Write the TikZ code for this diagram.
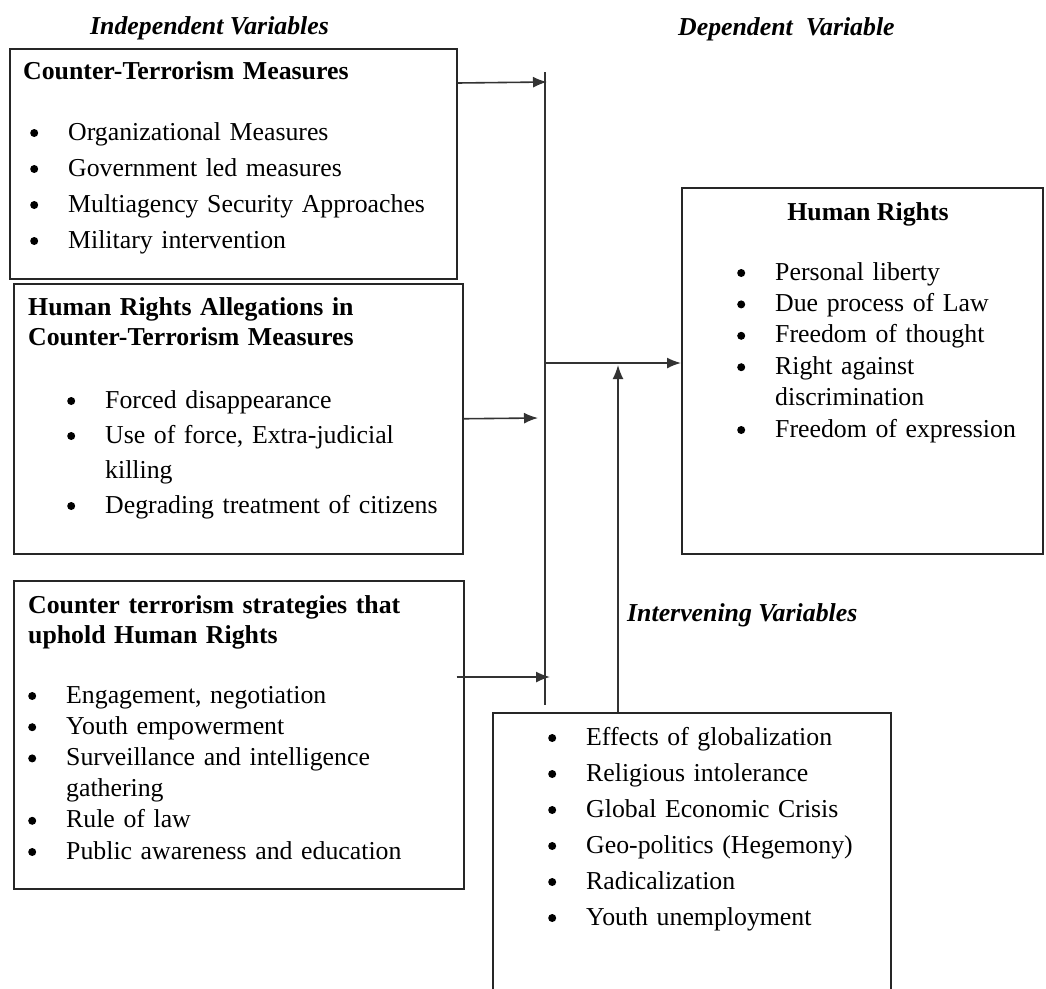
\documentclass[tikz,border=0pt]{standalone}
\usepackage{fontspec}
\setmainfont{Liberation Serif}
\usetikzlibrary{arrows.meta}

\newcommand{\dotmark}{\tikz[baseline=0pt]\fill (4pt,7pt) circle[radius=4pt];}
\newcommand{\itm}{\makebox[38pt][l]{\dotmark}}
\newcommand{\cnt}{\hspace*{38pt}}

\begin{document}
\begin{tikzpicture}[
    x=1pt, y=-1pt,
    >=Latex,
    frame/.style={draw=black!85, line width=1.5pt, anchor=north west, inner sep=0pt},
    heading/.style={anchor=base west, inner sep=0pt, font=\bfseries\itshape\fontsize{25.8}{31}\selectfont},
    boxtitle/.style={anchor=base west, inner sep=0pt, align=left, text width=430pt, font=\bfseries\fontsize{25.8}{30.5}\selectfont},
    itemlist/.style={anchor=base west, inner sep=0pt, align=left, text width=400pt, font=\fontsize{25.8}{#1}\selectfont},
    conn/.style={draw=black!80, line width=1.6pt},
    arrow/.style={conn, -{Latex[length=14pt,width=11pt]}}
]
\useasboundingbox (0,0) rectangle (1046,988);

% Variable headings.
\node[heading] (indep) at (90,34) {Independent Variables};
\node[heading] (dep) at (678,35) {Dependent\ \ Variable};
\node[heading] (interv) at (627,621) {Intervening Variables};

% Independent variables: three boxes on the left.
\node[frame, minimum width=447pt, minimum height=230pt] (cmbox) at (9,48) {};
\node[boxtitle] (cmtitle) at (23,79) {Counter-Terrorism Measures};
\node[itemlist=36] (cmlist) at (30,140) {\itm Organizational Measures\\ \itm Government led measures\\ \itm Multiagency Security Approaches\\ \itm Military intervention};

\node[frame, minimum width=449pt, minimum height=270pt] (albox) at (13,283) {};
\node[boxtitle] (altitle) at (28,315) {Human Rights Allegations in\\Counter-Terrorism Measures};
\node[itemlist=35] (allist) at (67,408) {\itm Forced disappearance\\ \itm Use of force, Extra-judicial\\ \cnt killing\\ \itm Degrading treatment of citizens};

\node[frame, minimum width=450pt, minimum height=308pt] (csbox) at (13,580) {};
\node[boxtitle] (cstitle) at (28,613) {Counter terrorism strategies that\\uphold Human Rights};
\node[itemlist=31.2] (cslist) at (28,703) {\itm Engagement, negotiation\\ \itm Youth empowerment\\ \itm Surveillance and intelligence\\ \cnt gathering\\ \itm Rule of law\\ \itm Public awareness and education};

% Dependent variable.
\node[frame, minimum width=361pt, minimum height=366pt] (hrbox) at (681,187) {};
\node[anchor=base, inner sep=0pt, font=\bfseries\fontsize{25.8}{31}\selectfont] (hrtitle) at (868,220) {Human Rights};
\node[itemlist=31.4] (hrlist) at (737,280) {\itm Personal liberty\\ \itm Due process of Law\\ \itm Freedom of thought\\ \itm Right against\\ \cnt discrimination\\ \itm Freedom of expression};

% Intervening variables (box runs off the bottom edge).
\node[frame, minimum width=398pt, minimum height=290pt] (ivbox) at (492,712) {};
\node[itemlist=36] (ivlist) at (548,745) {\itm Effects of globalization\\ \itm Religious intolerance\\ \itm Global Economic Crisis\\ \itm Geo-politics (Hegemony)\\ \itm Radicalization\\ \itm Youth unemployment};

% Collecting line and arrow ends.
\coordinate (bustop) at (545,72);
\coordinate (busbot) at (545,705);
\coordinate (in1) at (547,82);
\coordinate (in2) at (538,418);
\coordinate (in3) at (550,677);
\coordinate (hub) at (545,363);
\coordinate (ivin) at (618,365);

\draw[conn] (bustop) -- (busbot);
\draw[arrow] ([yshift=-35pt]cmbox.north east) -- (in1);
\draw[arrow] (albox.east) -- (in2);
\draw[arrow] ([xshift=-8pt,yshift=-97pt]csbox.north east) -- (in3);
\draw[arrow] (hub) -- (hub -| hrbox.west);
\draw[arrow] ([xshift=126pt]ivbox.north west) -- (ivin);

\end{tikzpicture}
\end{document}
